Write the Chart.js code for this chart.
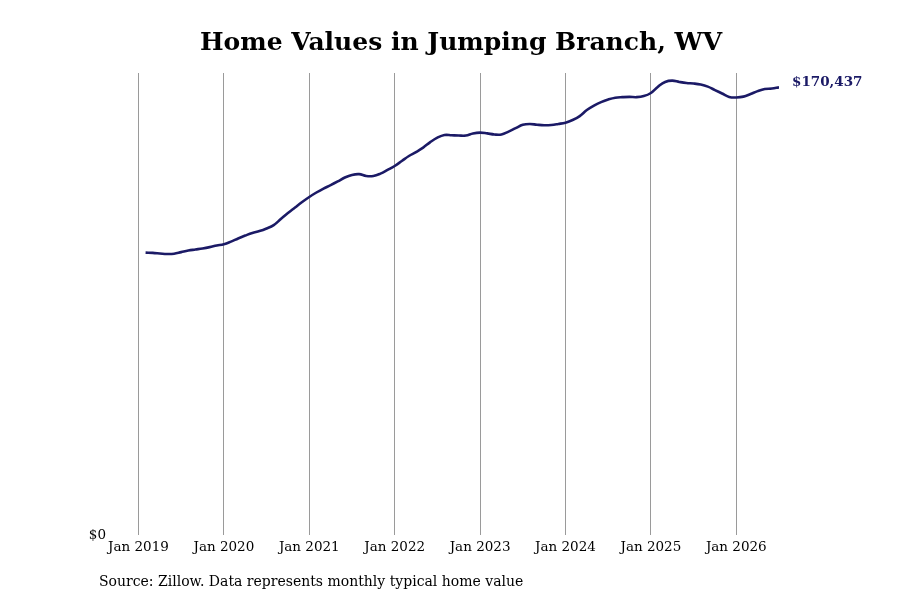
<!DOCTYPE html>
<html>
<head>
<meta charset="utf-8">
<script src="https://cdn.jsdelivr.net/npm/chart.js@4"></script>
<style>
    html, body { margin: 0; padding: 0; background: #ffffff; }
    #wrap { width: 900px; height: 600px; position: relative; }
</style>
</head>
<body>
<div id="wrap"><canvas id="homeValues"></canvas></div>
<script>
"use strict";

// months counted from Jan 2019 (0 = Jan 2019), Feb 2019 .. Jul 2026
var months = [];
for (var m = 1; m <= 90; m++) months.push(m);

var homeValues = [
    107500, 107400, 107200, 107000, 107100, 107700, 108300, 108700, 109100, 109600, 110200, 110700,
    111700, 112900, 114000, 115000, 115700, 116700, 118000, 120300, 122600, 124700, 126800, 128700,
    130400, 131900, 133200, 134600, 136100, 137100, 137400, 136700, 136700, 137600, 139000, 140500,
    142400, 144300, 145800, 147500, 149600, 151300, 152300, 152200, 152100, 152100, 152900, 153200,
    152900, 152500, 152500, 153600, 154900, 156200, 156500, 156200, 156000, 156100, 156500, 157000,
    158000, 159500, 161800, 163500, 164800, 165800, 166500, 166700, 166800, 166700, 167100, 168300,
    170700, 172500, 173000, 172500, 172100, 171900, 171500, 170700, 169400, 168100, 166800, 166600,
    166900, 167900, 169000, 169800, 170000, 170437
];

var yearTicks = [0, 12, 24, 36, 48, 60, 72, 84];
var yearLabels = ["Jan 2019", "Jan 2020", "Jan 2021", "Jan 2022", "Jan 2023", "Jan 2024", "Jan 2025", "Jan 2026"];
var yTicks = [0];

var lineColor = "#1b1a66";
var serif = "'DejaVu Serif', serif";

function money(v) {
    return "$" + Math.round(v).toLocaleString("en-US");
}

/* title, end value and source note */
var extras = {
    id: "extras",
    afterDraw: function (chart) {
        var ctx = chart.ctx;
        var meta = chart.getDatasetMeta(0);
        var last = meta.data[meta.data.length - 1];
        ctx.save();
        ctx.fillStyle = "#000000";
        ctx.font = "bold 25px " + serif;
        ctx.textAlign = "center";
        ctx.textBaseline = "middle";
        ctx.fillText("Home Values in Jumping Branch, WV", 461, 43);

        ctx.fillStyle = lineColor;
        ctx.font = "bold 13.5px " + serif;
        ctx.textAlign = "left";
        ctx.fillText(money(homeValues[homeValues.length - 1]), last.x + 13, last.y - 5);

        ctx.fillStyle = "#000000";
        ctx.font = "14px " + serif;
        ctx.fillText("Source: Zillow. Data represents monthly typical home value", 99, 582);
        ctx.restore();
    }
};

var data = months.map(function (m, i) {
    return { x: m, y: homeValues[i] };
});

new Chart(document.getElementById("homeValues"), {
    type: "line",
    data: {
        datasets: [{
            data: data,
            borderColor: lineColor,
            borderWidth: 2.6,
            pointRadius: 0,
            tension: 0.4,
            fill: false
        }]
    },
    options: {
        responsive: true,
        maintainAspectRatio: false,
        animation: false,
        layout: { padding: { top: 73, left: 88, right: 121, bottom: 45 } },
        plugins: {
            legend: { display: false },
            tooltip: { enabled: false }
        },
        scales: {
            x: {
                type: "linear",
                min: -4,
                max: 90,
                afterBuildTicks: function (scale) {
                    scale.ticks = yearTicks.map(function (v) { return { value: v }; });
                },
                afterFit: function (scale) { scale.height = 20; },
                ticks: {
                    autoSkip: false,
                    maxRotation: 0,
                    padding: 4,
                    color: "#000000",
                    font: { family: serif, size: 13.5 },
                    callback: function (value) {
                        return yearLabels[yearTicks.indexOf(value)];
                    }
                },
                grid: { color: "#9a9a9a", lineWidth: 1, drawTicks: false },
                border: { display: false }
            },
            y: {
                min: 0,
                max: 175900,
                afterBuildTicks: function (scale) {
                    scale.ticks = yTicks.map(function (v) { return { value: v }; });
                },
                afterFit: function (scale) { scale.width = 22; },
                ticks: {
                    padding: 4,
                    color: "#000000",
                    font: { family: serif, size: 13.5 },
                    callback: function (value) { return money(value); }
                },
                grid: { display: false, drawTicks: false },
                border: { display: false }
            }
        }
    },
    plugins: [extras]
});
</script>
</body>
</html>
